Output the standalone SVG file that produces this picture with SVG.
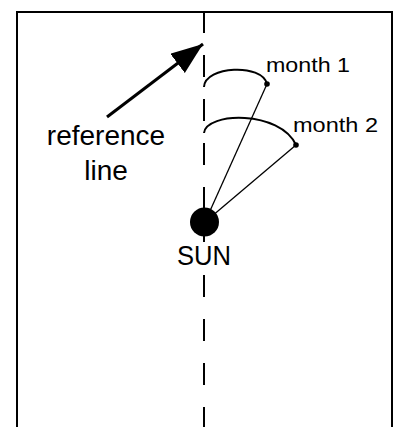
<svg xmlns="http://www.w3.org/2000/svg" width="396" height="427" viewBox="0 0 396 427">
<defs>
<style>
.lbl{font-family:"Liberation Sans",Arial,sans-serif;fill:#000}
.thin{stroke:#000;stroke-width:1.3;fill:none}
.arc{stroke:#000;stroke-width:2;fill:none}
.dash{stroke:#000;stroke-width:2;stroke-dasharray:22 22;fill:none}
</style>
<marker id="ah" markerUnits="userSpaceOnUse" markerWidth="34" markerHeight="34" refX="32" refY="12" orient="auto">
<path d="M0,0 L32,12 L0,24 Z" fill="#000"/>
</marker>
</defs>
<rect width="396" height="427" fill="#fff"/>
<g id="frame">
<path d="M17,430 L17,12 L392,12 L392,430" fill="none" stroke="#000" stroke-width="2"/>
</g>
<g id="connectors">
<path class="dash" d="M204,11 L204,242"/>
<path class="dash" d="M204,275 L204,430"/>
<line x1="107" y1="117" x2="203" y2="44" stroke="#000" stroke-width="3" marker-end="url(#ah)"/>
<line class="thin" x1="205" y1="222" x2="267" y2="84"/>
<line class="thin" x1="205" y1="222" x2="296" y2="145"/>
<path class="arc" d="M204,87 C205,66 262,63 267,84"/>
<path class="arc" d="M204,133 C206,112 280,110 296,145"/>
</g>
<g id="sun">
<circle cx="204.5" cy="222" r="14.5" fill="#000"/>
<text class="lbl" x="204" y="265" font-size="27" text-anchor="middle" textLength="54" lengthAdjust="spacingAndGlyphs">SUN</text>
</g>
<g id="month1">
<circle cx="267" cy="84" r="2.8" fill="#000"/>
<text class="lbl" x="266" y="72" font-size="20" textLength="84" lengthAdjust="spacingAndGlyphs">month 1</text>
</g>
<g id="month2">
<circle cx="296" cy="145" r="2.8" fill="#000"/>
<text class="lbl" x="293" y="132" font-size="20" textLength="85" lengthAdjust="spacingAndGlyphs">month 2</text>
</g>
<g id="reference-line">
<text class="lbl" x="106" y="145" font-size="28" text-anchor="middle">reference</text>
<text class="lbl" x="106" y="180" font-size="28" text-anchor="middle">line</text>
</g>
</svg>
